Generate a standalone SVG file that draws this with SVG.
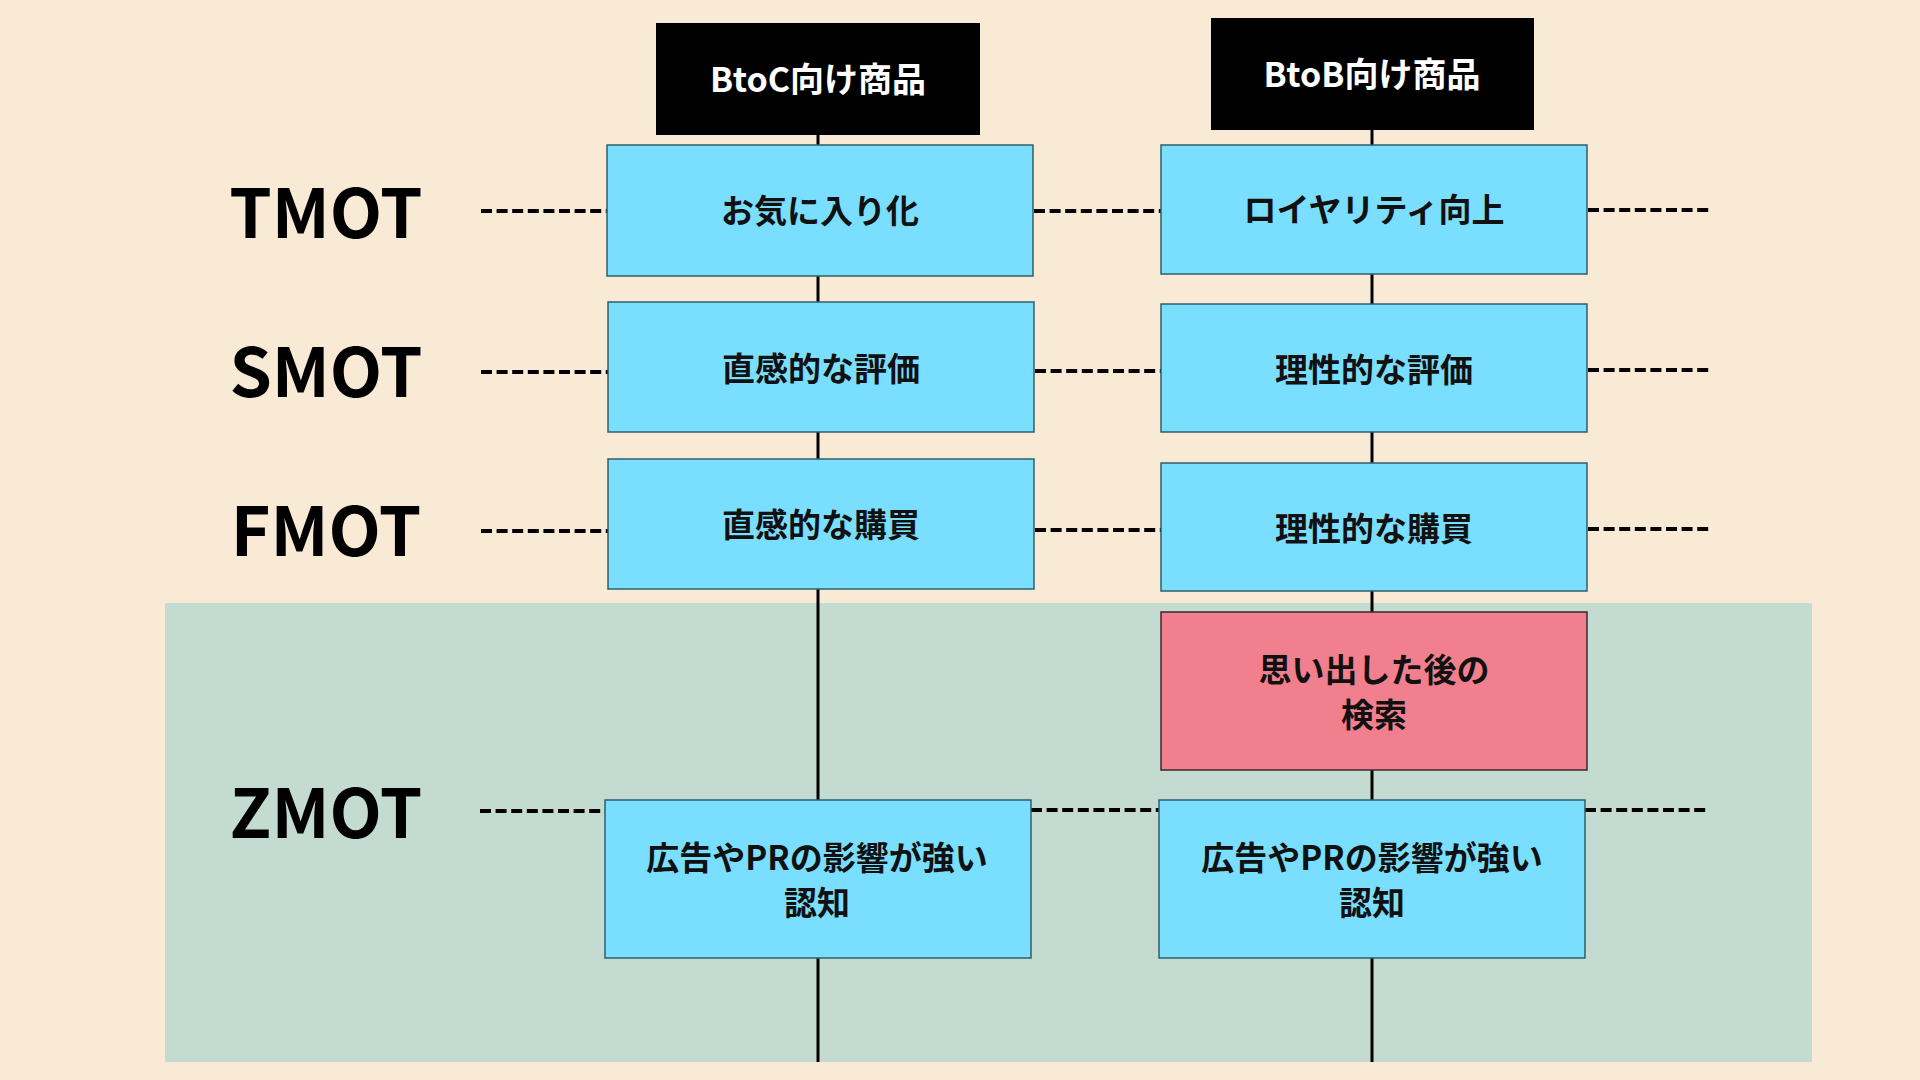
<svg xmlns="http://www.w3.org/2000/svg" width="1920" height="1080" viewBox="0 0 1920 1080">
<style>
.bg{fill:#F8EAD4}
.zone{fill:#C4DBD2}
.hdr{fill:#000000}
.box{fill:#7ADFFE;stroke:#2F5F6B;stroke-width:1.5}
.pink{fill:#F27F8E;stroke:#3A2A2E;stroke-width:1.5}
.t{font-family:"Noto Sans CJK JP","Noto Sans",sans-serif;font-weight:700;text-anchor:middle}
.ht{fill:#FFFFFF;font-size:34px}
.bt{fill:#111111;font-size:33px}
.lbl{fill:#000000;font-size:68px}
.v{stroke:#000;stroke-width:3;fill:none}
.d{stroke:#000;stroke-width:4;stroke-dasharray:11 4.6;fill:none}
</style>
<rect class="bg" x="0" y="0" width="1920" height="1080"/>
<rect class="zone" x="165" y="603" width="1647" height="459"/>
<g id="connectors">
<line class="v" x1="818" y1="135" x2="818" y2="1062"/>
<line class="v" x1="1372" y1="130" x2="1372" y2="1062"/>
<line class="d" x1="481" y1="211" x2="607" y2="211"/>
<line class="d" x1="1034" y1="211" x2="1161" y2="211"/>
<line class="d" x1="1588" y1="210" x2="1709" y2="210"/>
<line class="d" x1="481" y1="372" x2="608" y2="372"/>
<line class="d" x1="1035" y1="371" x2="1161" y2="371"/>
<line class="d" x1="1588" y1="370" x2="1709" y2="370"/>
<line class="d" x1="481" y1="531" x2="608" y2="531"/>
<line class="d" x1="1035" y1="530" x2="1161" y2="530"/>
<line class="d" x1="1588" y1="529" x2="1709" y2="529"/>
<line class="d" x1="480" y1="811" x2="605" y2="811"/>
<line class="d" x1="1031" y1="810" x2="1159" y2="810"/>
<line class="d" x1="1585" y1="810" x2="1708" y2="810"/>
</g>
<g id="label-tmot"><text class="t lbl" x="326" y="238">TMOT</text></g>
<g id="label-smot"><text class="t lbl" x="326" y="397">SMOT</text></g>
<g id="label-fmot"><text class="t lbl" x="326" y="556">FMOT</text></g>
<g id="label-zmot"><text class="t lbl" x="326" y="838">ZMOT</text></g>
<g id="hdr-btoc"><rect class="hdr" x="656" y="23" width="324" height="112"/><text class="t ht" x="818" y="92">BtoC向け商品</text></g>
<g id="hdr-btob"><rect class="hdr" x="1211" y="18" width="323" height="112"/><text class="t ht" x="1372" y="87">BtoB向け商品</text></g>
<g id="c-tmot"><rect class="box" x="607" y="145" width="426" height="131"/><text class="t bt" x="820" y="223">お気に入り化</text></g>
<g id="b-tmot"><rect class="box" x="1161" y="145" width="426" height="129"/><text class="t bt" x="1374" y="222">ロイヤリティ向上</text></g>
<g id="c-smot"><rect class="box" x="608" y="302" width="426" height="130"/><text class="t bt" x="821" y="381">直感的な評価</text></g>
<g id="b-smot"><rect class="box" x="1161" y="304" width="426" height="128"/><text class="t bt" x="1374" y="382">理性的な評価</text></g>
<g id="c-fmot"><rect class="box" x="608" y="459" width="426" height="130"/><text class="t bt" x="821" y="537">直感的な購買</text></g>
<g id="b-fmot"><rect class="box" x="1161" y="463" width="426" height="128"/><text class="t bt" x="1374" y="541">理性的な購買</text></g>
<g id="b-search"><rect class="pink" x="1161" y="612" width="426" height="158"/><text class="t bt" x="1374" y="682">思い出した後の</text><text class="t bt" x="1374" y="727">検索</text></g>
<g id="c-zmot"><rect class="box" x="605" y="800" width="426" height="158"/><text class="t bt" x="817" y="870">広告やPRの影響が強い</text><text class="t bt" x="817" y="915">認知</text></g>
<g id="b-zmot"><rect class="box" x="1159" y="800" width="426" height="158"/><text class="t bt" x="1372" y="870">広告やPRの影響が強い</text><text class="t bt" x="1372" y="915">認知</text></g>
</svg>
